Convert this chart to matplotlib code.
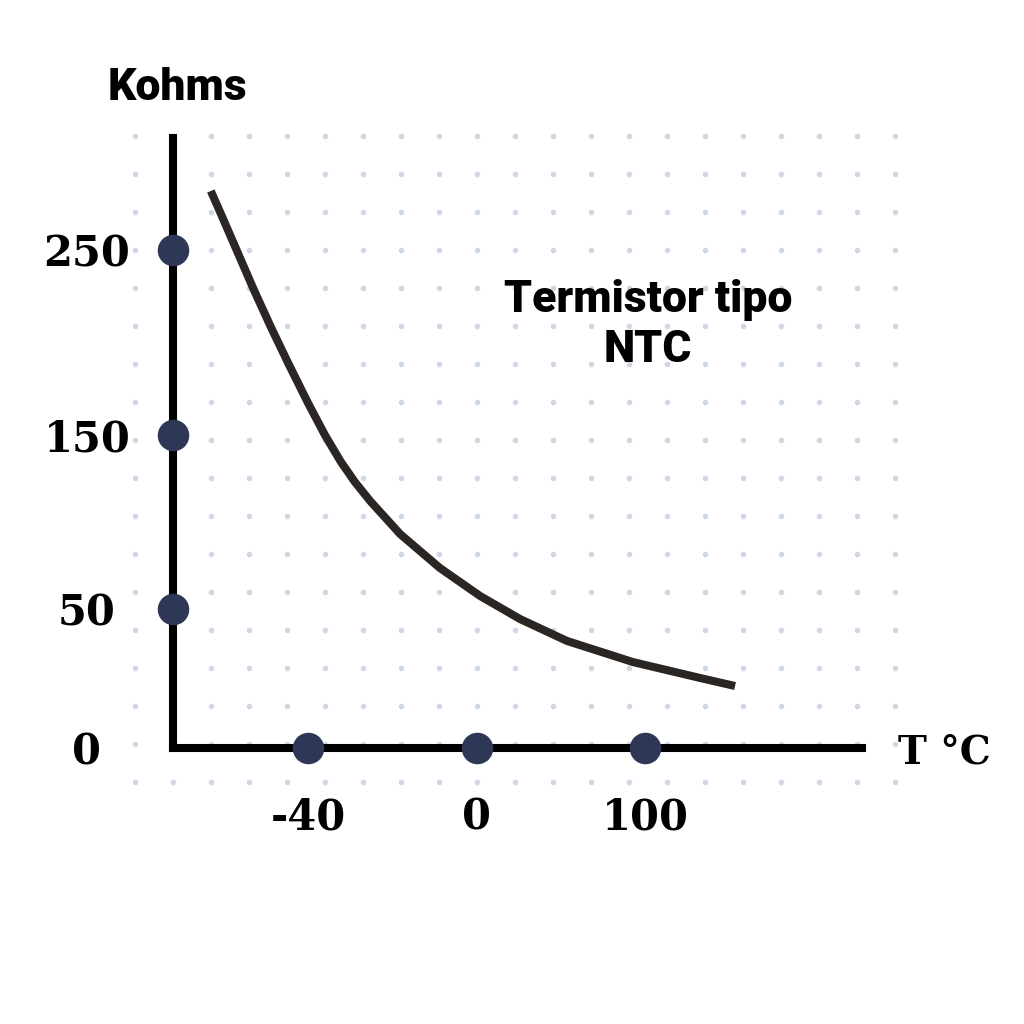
import numpy as np
import matplotlib
matplotlib.use("Agg")
import matplotlib.pyplot as plt

# ---- data ----
temp_ticks = [-40, 0, 100]
temp_labels = ["-40", "0", "100"]
res_ticks = [0, 50, 150, 250]
res_labels = ["0", "50", "150", "250"]
curve_temp = [-63.0, -60.8, -56.9, -52.8, -48.8, -44.7, -40.0, -36.0, -32.2, -28.9, -25.3,
              -18.2, -8.8, 1.8, 25.6, 53.6, 92.9, 132.7, 153.6]
curve_res = [281.9, 270.5, 250.0, 228.4, 208.4, 188.9, 167.3, 150.0, 134.5, 123.0, 112.1,
             93.1, 73.6, 57.5, 46.4, 38.5, 30.9, 25.2, 22.3]

# ---- schematic (piecewise linear) scales: tick value -> pixel anchor ----
X_VALS, X_PIX = [-40, 0, 100], [308, 477, 645]
Y_VALS, Y_PIX = [0, 50, 150, 250], [1024 - 748, 1024 - 609, 1024 - 435, 1024 - 250]


def piecewise(xp, fp):
    xp = np.asarray(xp, float)
    fp = np.asarray(fp, float)
    s0 = (fp[1] - fp[0]) / (xp[1] - xp[0])
    s1 = (fp[-1] - fp[-2]) / (xp[-1] - xp[-2])

    def f(v):
        v = np.asarray(v, float)
        out = np.interp(v, xp, fp)
        out = np.where(v < xp[0], fp[0] + (v - xp[0]) * s0, out)
        out = np.where(v > xp[-1], fp[-1] + (v - xp[-1]) * s1, out)
        return out
    return f


fx, fxi = piecewise(X_VALS, X_PIX), piecewise(X_PIX, X_VALS)
fy, fyi = piecewise(Y_VALS, Y_PIX), piecewise(Y_PIX, Y_VALS)

fig = plt.figure(figsize=(10.24, 10.24), dpi=100)
fig.patch.set_facecolor("white")

# background dot grid (decoration, pixel space)
bg = fig.add_axes([0, 0, 1, 1], zorder=0)
bg.set_xlim(0, 1024)
bg.set_ylim(1024, 0)
bg.axis("off")
gx, gy = np.meshgrid(np.arange(135, 900, 38), np.arange(136, 790, 38))
bg.scatter(gx.ravel(), gy.ravel(), s=16, color="#ced7e6", linewidths=0)

ax = fig.add_axes([0, 0, 1, 1], zorder=1)
ax.patch.set_visible(False)
ax.set_xscale("function", functions=(fx, fxi))
ax.set_yscale("function", functions=(fy, fyi))
ax.set_xlim(float(fxi(0)), float(fxi(1024)))
ax.set_ylim(float(fyi(0)), float(fyi(1024)))

x0 = float(fxi(173))
ax.spines["top"].set_visible(False)
ax.spines["right"].set_visible(False)
ax.spines["left"].set_position(("data", x0))
ax.spines["left"].set_bounds(0, float(fyi(1024 - 138)))
ax.spines["bottom"].set_position(("data", 0))
ax.spines["bottom"].set_bounds(x0, float(fxi(862)))
for sp in ("left", "bottom"):
    ax.spines[sp].set_linewidth(5.8)
    ax.spines[sp].set_color("black")
    ax.spines[sp].set_capstyle("projecting")

tick_font = dict(family="DejaVu Serif", weight="bold", size=30)
ax.set_xticks(temp_ticks, labels=temp_labels, **tick_font)
ax.set_yticks(res_ticks, labels=res_labels, **tick_font)
ax.tick_params(axis="x", length=0, pad=35)
ax.tick_params(axis="y", length=0, pad=62)
for lab in ax.get_yticklabels():
    lab.set_ha("center")
ax.minorticks_off()

# curve
ax.plot(curve_temp, curve_res, color="#2b2523", lw=5.8, solid_capstyle="butt",
        solid_joinstyle="round", zorder=3)

# tick dots
dot_col = "#2e3856"
ax.scatter(temp_ticks, [0] * len(temp_ticks), s=470, color=dot_col, zorder=4, clip_on=False)
ax.scatter([x0] * len(res_ticks[1:]), res_ticks[1:], s=470, color=dot_col, zorder=4, clip_on=False)

# texts
sans = ["Roboto", "Liberation Sans", "DejaVu Sans"]
fig.text(177 / 1024, 1 - 88 / 1024, "Kohms", ha="center", va="center",
         family=sans, weight="black", size=32)
fig.text(648 / 1024, 1 - 325 / 1024, "Termistor tipo\nNTC", ha="center", va="center",
         family=sans, weight="black", size=32, linespacing=1.25)
fig.text(898 / 1024, 1 - 752 / 1024, "T °C", ha="left", va="center",
         family="DejaVu Serif", weight="bold", size=28)

fig.savefig("out.png", dpi=100, facecolor="white")
